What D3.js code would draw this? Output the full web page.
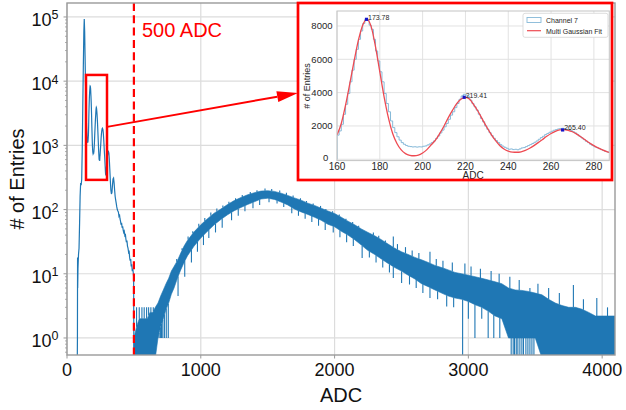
<!DOCTYPE html>
<html>
<head>
<meta charset="utf-8">
<script src="https://cdn.jsdelivr.net/npm/d3@7"></script>
<style>
html, body { margin: 0; padding: 0; background: #fff; }
svg { display: block; font-family: "Liberation Sans", Arial, Helvetica, sans-serif; }
</style>
</head>
<body>
<svg id="chart" width="626" height="410"></svg>
<script>
// ---- main histogram: pedestal / low-ADC part (before the zoomed window) ----
const lowAdc    = [74, 77, 78, 79, 80, 82, 86, 90, 94, 98, 102, 106, 110, 114, 118, 122, 126, 129, 132, 135, 138, 142, 146, 150, 154, 157];
const lowCounts = [0, 0, 1, 18, 6, 12, 20, 25, 60, 160, 260, 240, 300, 900, 4000, 16600, 60000, 93000, 60000, 25000, 10000, 4000, 2000, 1300, 1100, 1150];

// ---- channel 7, 1-ADC bins from 160 to 287 (also shown in the inset) ----
const chStart = 160;
const chCounts = [
  1450, 1700, 2100, 2700, 3300, 3950, 4650, 5350, 6000, 6600,
  7200, 7700, 8150, 8400, 8350, 8050, 7800, 7200, 6500, 5900,
  5250, 4650, 3950, 3350, 2850, 2300, 1900, 1600, 1350, 1150,
  1000, 900, 830, 780, 760, 740, 750, 730, 750, 740,
  780, 800, 860, 920, 1000, 1100, 1250, 1400, 1580, 1750,
  1950, 2150, 2400, 2650, 2850, 3100, 3350, 3600, 3800, 3900,
  3850, 3750, 3550, 3350, 3150, 2950, 2700, 2450, 2250, 2000,
  1800, 1600, 1420, 1260, 1120, 1000, 880, 790, 720, 660,
  600, 620, 580, 600, 570, 620, 680, 700, 760, 820,
  880, 950, 1020, 1100, 1200, 1300, 1380, 1480, 1550, 1620,
  1680, 1740, 1780, 1820, 1850, 1860, 1840, 1800, 1780, 1720,
  1650, 1580, 1480, 1380, 1280, 1180, 1080, 1000, 900, 820,
  750, 700, 640, 580, 530, 480, 440, 400
];

// ---- main histogram: after the zoomed window up to the 500 ADC cut ----
const tailAdc    = [288, 290, 292, 295, 298, 302, 306, 310, 313, 316, 320, 324, 328, 332, 336, 340, 344, 348, 352, 356, 360, 364, 368, 372, 376, 380, 384, 388, 392, 396, 400, 404, 408, 412, 416, 420, 424, 428, 432, 436, 440, 444, 448, 452, 456, 460, 464, 468, 472, 476, 480, 484, 488, 492, 496, 498, 500];
const tailCounts = [370, 340, 360, 450, 560, 680, 770, 800, 760, 620, 420, 280, 200, 175, 185, 240, 300, 310, 260, 200, 160, 140, 125, 110, 100, 95, 92, 80, 84, 72, 66, 58, 62, 52, 55, 48, 44, 46, 40, 42, 35, 31, 33, 27, 25, 22, 23, 18, 16, 17, 13, 14, 11, 12, 10, 9, 0];

// ---- signal bump above 500 ADC: upper / lower edge of the dense noisy band ----
const bandAdc = [500, 520, 540, 560, 580, 600, 620, 640, 660, 680, 700, 720, 740, 760, 780, 800, 825, 850, 875, 900, 950, 1000, 1050, 1100, 1150, 1200, 1250, 1300, 1350, 1400, 1450, 1500, 1550, 1600, 1650, 1700, 1750, 1800, 1850, 1900, 1950, 2000, 2050, 2100, 2150, 2200, 2250, 2300, 2350, 2400, 2450, 2500, 2550, 2600, 2650, 2700, 2750, 2800, 2850, 2900, 2950, 3000, 3050, 3100, 3150, 3200, 3250, 3300, 3350, 3400, 3450, 3500, 3550, 3600, 3650, 3700, 3750, 3800, 3850, 3900, 3950, 4000, 4050, 4096];
const bandHi  = [1, 1.5, 2, 2, 2, 2, 2.5, 2.5, 3, 3.5, 4.5, 5.6, 7, 8.5, 11, 13, 16, 21, 27, 33, 45, 58, 72, 88, 102, 120, 138, 154, 170, 183, 194, 197, 192, 180, 166, 152, 140, 126, 116, 105, 95, 87, 76, 66, 58, 50, 44, 39, 34, 29, 25, 22, 20, 18, 16.5, 15, 13.5, 12.5, 11.5, 10.5, 10, 9.5, 9, 8.5, 8, 7.5, 7, 6, 5.6, 5.5, 5.3, 5, 4.7, 4, 3.5, 3.2, 3, 3, 2.8, 2.5, 2.2, 2.2, 2.2, 2.2];
const bandLo  = [0, 0, 0, 0, 0, 0, 0, 0, 0, 1, 1.5, 2, 2.8, 3.5, 4.8, 6, 8.5, 11.5, 15, 19, 27, 36, 46, 58, 70, 83, 96, 108, 120, 132, 146, 150, 144, 131, 118, 102, 92, 84, 76, 68, 59, 54, 46, 40, 34, 28, 23, 20, 17, 14.5, 12.5, 11, 9.5, 8.3, 7, 6.3, 5.6, 5, 4.5, 4.2, 4, 3.7, 3.3, 3, 2.6, 2.2, 2, 1, 1, 1, 1, 1, 0, 0, 0, 0, 0, 0, 0, 0, 0, 0, 0, 0];

// single bins sticking out below the band (0 = empty bin, drawn to the axis)
const downAdc    = [688, 698, 706, 716, 728, 742, 757, 830, 880, 930, 975, 1020, 1060, 1110, 1160, 1230, 1280, 1330, 1390, 1440, 1510, 1570, 1620, 1680, 1730, 1780, 1830, 1880, 1930, 1990, 2040, 2090, 2140, 2206, 2260, 2310, 2360, 2410, 2439, 2501, 2560, 2610, 2660, 2713, 2770, 2838, 2890, 2957, 3000, 3049, 3100, 3148, 3190, 3235, 3320, 3335, 3345, 3358, 3370, 3385, 3400, 3412, 3430, 3445, 3460, 3475, 3490];
const downCounts = [1, 1, 1, 1, 1, 1, 1, 4.5, 9, 15, 22, 28, 36, 44, 52, 68, 80, 94, 105, 118, 130, 124, 110, 88, 80, 72, 64, 56, 48, 44, 37, 31, 27, 17.6, 18, 15, 12.5, 10.5, 8.6, 7.2, 6.8, 6, 5, 4.2, 4, 3.1, 3, 0, 2, 1, 2, 1, 1, 1, 0, 0, 0, 0, 0, 0, 0, 0, 0, 0, 0, 0, 0];
// single bins sticking out above the band
const upAdc    = [520, 540, 560, 577, 595, 610, 627, 645, 820, 860, 905, 940, 985, 1030, 1075, 1120, 1165, 1210, 1260, 1310, 1370, 1420, 1480, 1530, 1590, 1640, 1690, 1745, 1790, 1840, 1895, 1935, 1985, 2035, 2085, 2135, 2180, 2240, 2290, 2330, 2380, 2439, 2470, 2530, 2580, 2630, 2713, 2760, 2810, 2880, 2974, 3020, 3090, 3170, 3230, 3310, 3380, 3460, 3520, 3600, 3680, 3785, 3860, 3960, 4040];
const upCounts = [3, 3, 3, 3, 3, 3, 3, 3, 17, 25, 38, 46, 60, 74, 90, 104, 116, 132, 150, 168, 188, 200, 212, 210, 198, 182, 165, 150, 136, 124, 114, 102, 94, 84, 72, 64, 56, 45, 44, 39, 33, 38, 29, 26, 23, 21, 22, 17, 16, 15, 14.5, 13, 12, 11, 10, 9, 8, 6, 7, 6, 5, 6.7, 4, 4.2, 3];

// ---- inset: multi gaussian fit and fitted peaks ----
const fitAdc = [160, 162, 164, 166, 168, 170, 172, 174, 176, 178, 180, 182, 184, 186, 188, 190, 192, 194, 196, 198, 200, 202, 204, 206, 208, 210, 212, 214, 216, 218, 220, 222, 224, 226, 228, 230, 232, 234, 236, 238, 240, 242, 244, 246, 248, 250, 252, 254, 256, 258, 260, 262, 264, 266, 268, 270, 272, 274, 276, 278, 280, 282, 284, 286, 288];
const fitCounts = [1460, 2150, 3250, 4550, 5900, 7150, 8050, 8400, 7950, 6750, 5250, 3750, 2500, 1550, 950, 560, 340, 240, 210, 250, 380, 580, 870, 1150, 1550, 2000, 2500, 2950, 3350, 3620, 3720, 3600, 3250, 2850, 2380, 1920, 1500, 1130, 830, 620, 490, 430, 420, 450, 530, 660, 820, 1000, 1190, 1380, 1550, 1680, 1760, 1780, 1740, 1650, 1510, 1340, 1160, 980, 820, 680, 560, 460, 380];
const peakAdc    = [173.78, 219.41, 265.40];
const peakCounts = [8400, 3720, 1760];
const peakLabels = ['173.78', '219.41', '265.40'];

// ticks
const xTicks = [0, 1000, 2000, 3000, 4000];
const yTickExps = [0, 1, 2, 3, 4, 5];
const insetXTicks = [160, 180, 200, 220, 240, 260, 280];
const insetYTicks = [0, 2000, 4000, 6000, 8000];
const legendLabels = ['Channel 7', 'Multi Gaussian Fit'];

// ===== layout =====
const M = { left: 67, right: 615, top: 3, bottom: 355 };
const svg = d3.select('#chart');
const blue = '#1f77b4';

const x = d3.scaleLinear().domain([0, 4096]).range([M.left, M.right]);
const y = d3.scaleLog().domain([0.543, 165000]).range([M.bottom, M.top]);
const yv = c => c > 0 ? y(c) : M.bottom + 3;   // empty bins are clipped at the axis

svg.append('defs').append('clipPath').attr('id', 'plotClip')
  .append('rect').attr('x', M.left).attr('y', M.top)
  .attr('width', M.right - M.left).attr('height', M.bottom - M.top);

// grid
const grid = svg.append('g');
xTicks.forEach(t => grid.append('line')
  .attr('x1', x(t)).attr('x2', x(t)).attr('y1', M.top).attr('y2', M.bottom)
  .attr('stroke', '#dcdcdc').attr('stroke-width', 1.2));
yTickExps.forEach(e => grid.append('line')
  .attr('x1', M.left).attr('x2', M.right).attr('y1', y(10 ** e)).attr('y2', y(10 ** e))
  .attr('stroke', '#dcdcdc').attr('stroke-width', 1.2));

// data
const plot = svg.append('g').attr('clip-path', 'url(#plotClip)');

const lowSeries = lowAdc.map((a, i) => [a, lowCounts[i]])
  .concat(chCounts.map((c, i) => [chStart + i, c]))
  .concat(tailAdc.map((a, i) => [a, tailCounts[i]]));

plot.append('path')
  .attr('d', d3.line().x(d => x(d[0])).y(d => yv(d[1]))(lowSeries))
  .attr('fill', 'none').attr('stroke', blue).attr('stroke-width', 1.2);

const band = bandAdc.map((a, i) => ({ adc: a, hi: bandHi[i], lo: bandLo[i] }));
plot.append('path')
  .attr('d', d3.area().x(d => x(d.adc)).y0(d => yv(d.lo)).y1(d => yv(d.hi))(band))
  .attr('fill', blue).attr('stroke', blue).attr('stroke-width', 0.6);

const loAt = a => yv(d3.scaleLinear().domain(bandAdc).range(bandLo)(a));
const hiAt = a => yv(d3.scaleLinear().domain(bandAdc).range(bandHi)(a));

plot.selectAll('line.down').data(downAdc).enter().append('line')
  .attr('x1', d => x(d)).attr('x2', d => x(d))
  .attr('y1', d => loAt(d)).attr('y2', (d, i) => yv(downCounts[i]))
  .attr('stroke', blue).attr('stroke-width', 1.1);
plot.selectAll('line.up').data(upAdc).enter().append('line')
  .attr('x1', d => x(d)).attr('x2', d => x(d))
  .attr('y1', d => hiAt(d)).attr('y2', (d, i) => y(upCounts[i]))
  .attr('stroke', blue).attr('stroke-width', 1.1);

// 500 ADC cut
svg.append('line')
  .attr('x1', x(500)).attr('x2', x(500)).attr('y1', M.top).attr('y2', M.bottom)
  .attr('stroke', '#ff0000').attr('stroke-width', 2.2).attr('stroke-dasharray', '8,4.3');
svg.append('text').attr('x', 142).attr('y', 36.5)
  .attr('font-size', 20).attr('fill', '#ff0000').text('500 ADC');

// zoom window box + arrow
const zx0 = x(142), zx1 = x(299), zy0 = y(12500), zy1 = y(290);
svg.append('rect').attr('x', zx0).attr('y', zy0)
  .attr('width', zx1 - zx0).attr('height', zy1 - zy0)
  .attr('fill', 'none').attr('stroke', '#ff0000').attr('stroke-width', 2.5);

const box = { x0: 298, x1: 612, y0: 3, y1: 180 };
const a0 = [zx1, y(1940)], a1 = [box.x0, 93];
const ang = Math.atan2(a1[1] - a0[1], a1[0] - a0[0]);
const hl = 21, hw = 5.5;
const base = [a1[0] - hl * Math.cos(ang), a1[1] - hl * Math.sin(ang)];
svg.append('line').attr('x1', a0[0]).attr('y1', a0[1]).attr('x2', base[0]).attr('y2', base[1])
  .attr('stroke', '#ff0000').attr('stroke-width', 2);
svg.append('path')
  .attr('d', `M${a1[0]},${a1[1]} L${base[0] - hw * Math.sin(ang)},${base[1] + hw * Math.cos(ang)} L${base[0] + hw * Math.sin(ang)},${base[1] - hw * Math.cos(ang)} Z`)
  .attr('fill', '#ff0000');

// main axes frame, ticks, labels
const frame = svg.append('g');
frame.append('rect').attr('x', M.left).attr('y', M.top)
  .attr('width', M.right - M.left).attr('height', M.bottom - M.top)
  .attr('fill', 'none').attr('stroke', '#9a9a9a').attr('stroke-width', 1.4);

xTicks.forEach(t => {
  frame.append('line').attr('x1', x(t)).attr('x2', x(t)).attr('y1', M.bottom).attr('y2', M.bottom + 3.5)
    .attr('stroke', '#9a9a9a');
  frame.append('text').attr('x', x(t)).attr('y', 376).attr('text-anchor', 'middle')
    .attr('font-size', 18).attr('fill', '#111').text(t);
});

yTickExps.forEach(e => {
  const yy = y(10 ** e);
  frame.append('line').attr('x1', M.left - 3.5).attr('x2', M.left).attr('y1', yy).attr('y2', yy)
    .attr('stroke', '#9a9a9a');
  const t = frame.append('text').attr('x', 58.5).attr('y', yy + 9)
    .attr('text-anchor', 'end').attr('font-size', 18).attr('fill', '#111');
  t.append('tspan').text('10');
  t.append('tspan').attr('dy', -6.5).attr('font-size', 12.5).text(e);
  // minor ticks
  for (let m = 2; m <= 9; m++) {
    const v = m * 10 ** e;
    if (v < y.domain()[1]) {
      frame.append('line').attr('x1', M.left - 2).attr('x2', M.left).attr('y1', y(v)).attr('y2', y(v))
        .attr('stroke', '#9a9a9a').attr('stroke-width', 0.8);
    }
  }
});
[0.6, 0.7, 0.8, 0.9].forEach(v => frame.append('line')
  .attr('x1', M.left - 2).attr('x2', M.left).attr('y1', y(v)).attr('y2', y(v))
  .attr('stroke', '#9a9a9a').attr('stroke-width', 0.8));

svg.append('text').attr('x', (M.left + M.right) / 2).attr('y', 402)
  .attr('text-anchor', 'middle').attr('font-size', 20).attr('fill', '#111').text('ADC');
svg.append('text').attr('transform', `translate(24,${(M.top + M.bottom) / 2}) rotate(-90)`)
  .attr('text-anchor', 'middle').attr('font-size', 20).attr('fill', '#111').text('# of Entries');

// ===== inset =====
const inset = svg.append('g');
inset.append('rect').attr('x', box.x0).attr('y', box.y0)
  .attr('width', box.x1 - box.x0).attr('height', box.y1 - box.y0).attr('fill', '#fff');

const xi = d3.scaleLinear().domain([160, 287.2]).range([337, 609.3]);
const yi = d3.scaleLinear().domain([-80, 8900]).range([160.6, 11]);

svg.select('defs').append('clipPath').attr('id', 'insetClip')
  .append('rect').attr('x', xi.range()[0]).attr('y', yi.range()[1])
  .attr('width', xi.range()[1] - xi.range()[0]).attr('height', yi.range()[0] - yi.range()[1]);

insetXTicks.forEach(t => {
  inset.append('line').attr('x1', xi(t)).attr('x2', xi(t)).attr('y1', yi.range()[1]).attr('y2', yi.range()[0])
    .attr('stroke', '#e2e2e2').attr('stroke-width', 1);
  inset.append('text').attr('x', xi(t)).attr('y', 169.5).attr('text-anchor', 'middle')
    .attr('font-size', 10).attr('fill', '#262626').text(t);
});
insetYTicks.forEach(t => {
  inset.append('line').attr('x1', xi.range()[0]).attr('x2', xi.range()[1]).attr('y1', yi(t)).attr('y2', yi(t))
    .attr('stroke', '#e2e2e2').attr('stroke-width', 1);
  inset.append('text').attr('x', t === 0 ? 328.3 : 332.5).attr('y', yi(t) + (t === 0 ? 2 : 3.4)).attr('text-anchor', 'end')
    .attr('font-size', 9.5).attr('fill', '#262626').text(t);
});

const ip = inset.append('g').attr('clip-path', 'url(#insetClip)');
const chSteps = [[chStart, 0]].concat(chCounts.map((c, i) => [chStart + i, c]))
  .concat([[chStart + chCounts.length, chCounts[chCounts.length - 1]]]);
ip.append('path')
  .attr('d', d3.line().curve(d3.curveStepAfter).x(d => xi(d[0])).y(d => yi(d[1]))(chSteps))
  .attr('fill', 'none').attr('stroke', '#86b9d8').attr('stroke-width', 1);
ip.append('path')
  .attr('d', d3.line().curve(d3.curveMonotoneX).x(d => xi(d)).y((d, i) => yi(fitCounts[i]))(fitAdc))
  .attr('fill', 'none').attr('stroke', '#ee4a52').attr('stroke-width', 1.3);

peakAdc.forEach((p, i) => {
  inset.append('rect').attr('x', xi(p) - 1.6).attr('y', yi(peakCounts[i]) - 1.6)
    .attr('width', 3.2).attr('height', 3.2).attr('fill', '#1414c8');
  inset.append('text').attr('x', xi(p) + 1.5).attr('y', yi(peakCounts[i]) + 0.5)
    .attr('font-size', 7).attr('fill', '#262626').text(peakLabels[i]);
});

inset.append('rect').attr('x', xi.range()[0]).attr('y', yi.range()[1])
  .attr('width', xi.range()[1] - xi.range()[0]).attr('height', yi.range()[0] - yi.range()[1])
  .attr('fill', 'none').attr('stroke', '#c4c4c4').attr('stroke-width', 1);

// legend
const lg = inset.append('g');
lg.append('rect').attr('x', 523).attr('y', 13.3).attr('width', 85).attr('height', 24).attr('rx', 2)
  .attr('fill', '#fff').attr('stroke', '#d4d4d4').attr('stroke-width', 0.8);
lg.append('rect').attr('x', 527).attr('y', 17.5).attr('width', 14).attr('height', 5)
  .attr('fill', 'none').attr('stroke', '#86b9d8').attr('stroke-width', 0.9);
lg.append('line').attr('x1', 527).attr('x2', 541).attr('y1', 30.7).attr('y2', 30.7)
  .attr('stroke', '#ee4a52').attr('stroke-width', 1.2);
legendLabels.forEach((s, i) => lg.append('text').attr('x', 546).attr('y', 23 + i * 10.5)
  .attr('font-size', 7).attr('fill', '#262626').text(s));

inset.append('text').attr('x', (xi.range()[0] + xi.range()[1]) / 2).attr('y', 179)
  .attr('text-anchor', 'middle').attr('font-size', 10).attr('fill', '#262626').text('ADC');
inset.append('text').attr('transform', `translate(309.5,86) rotate(-90)`)
  .attr('text-anchor', 'middle').attr('font-size', 9).attr('fill', '#262626').text('# of Entries');

inset.append('rect').attr('x', box.x0).attr('y', box.y0)
  .attr('width', box.x1 - box.x0).attr('height', box.y1 - box.y0)
  .attr('fill', 'none').attr('stroke', '#ff0000').attr('stroke-width', 2.7);
</script>
</body>
</html>
